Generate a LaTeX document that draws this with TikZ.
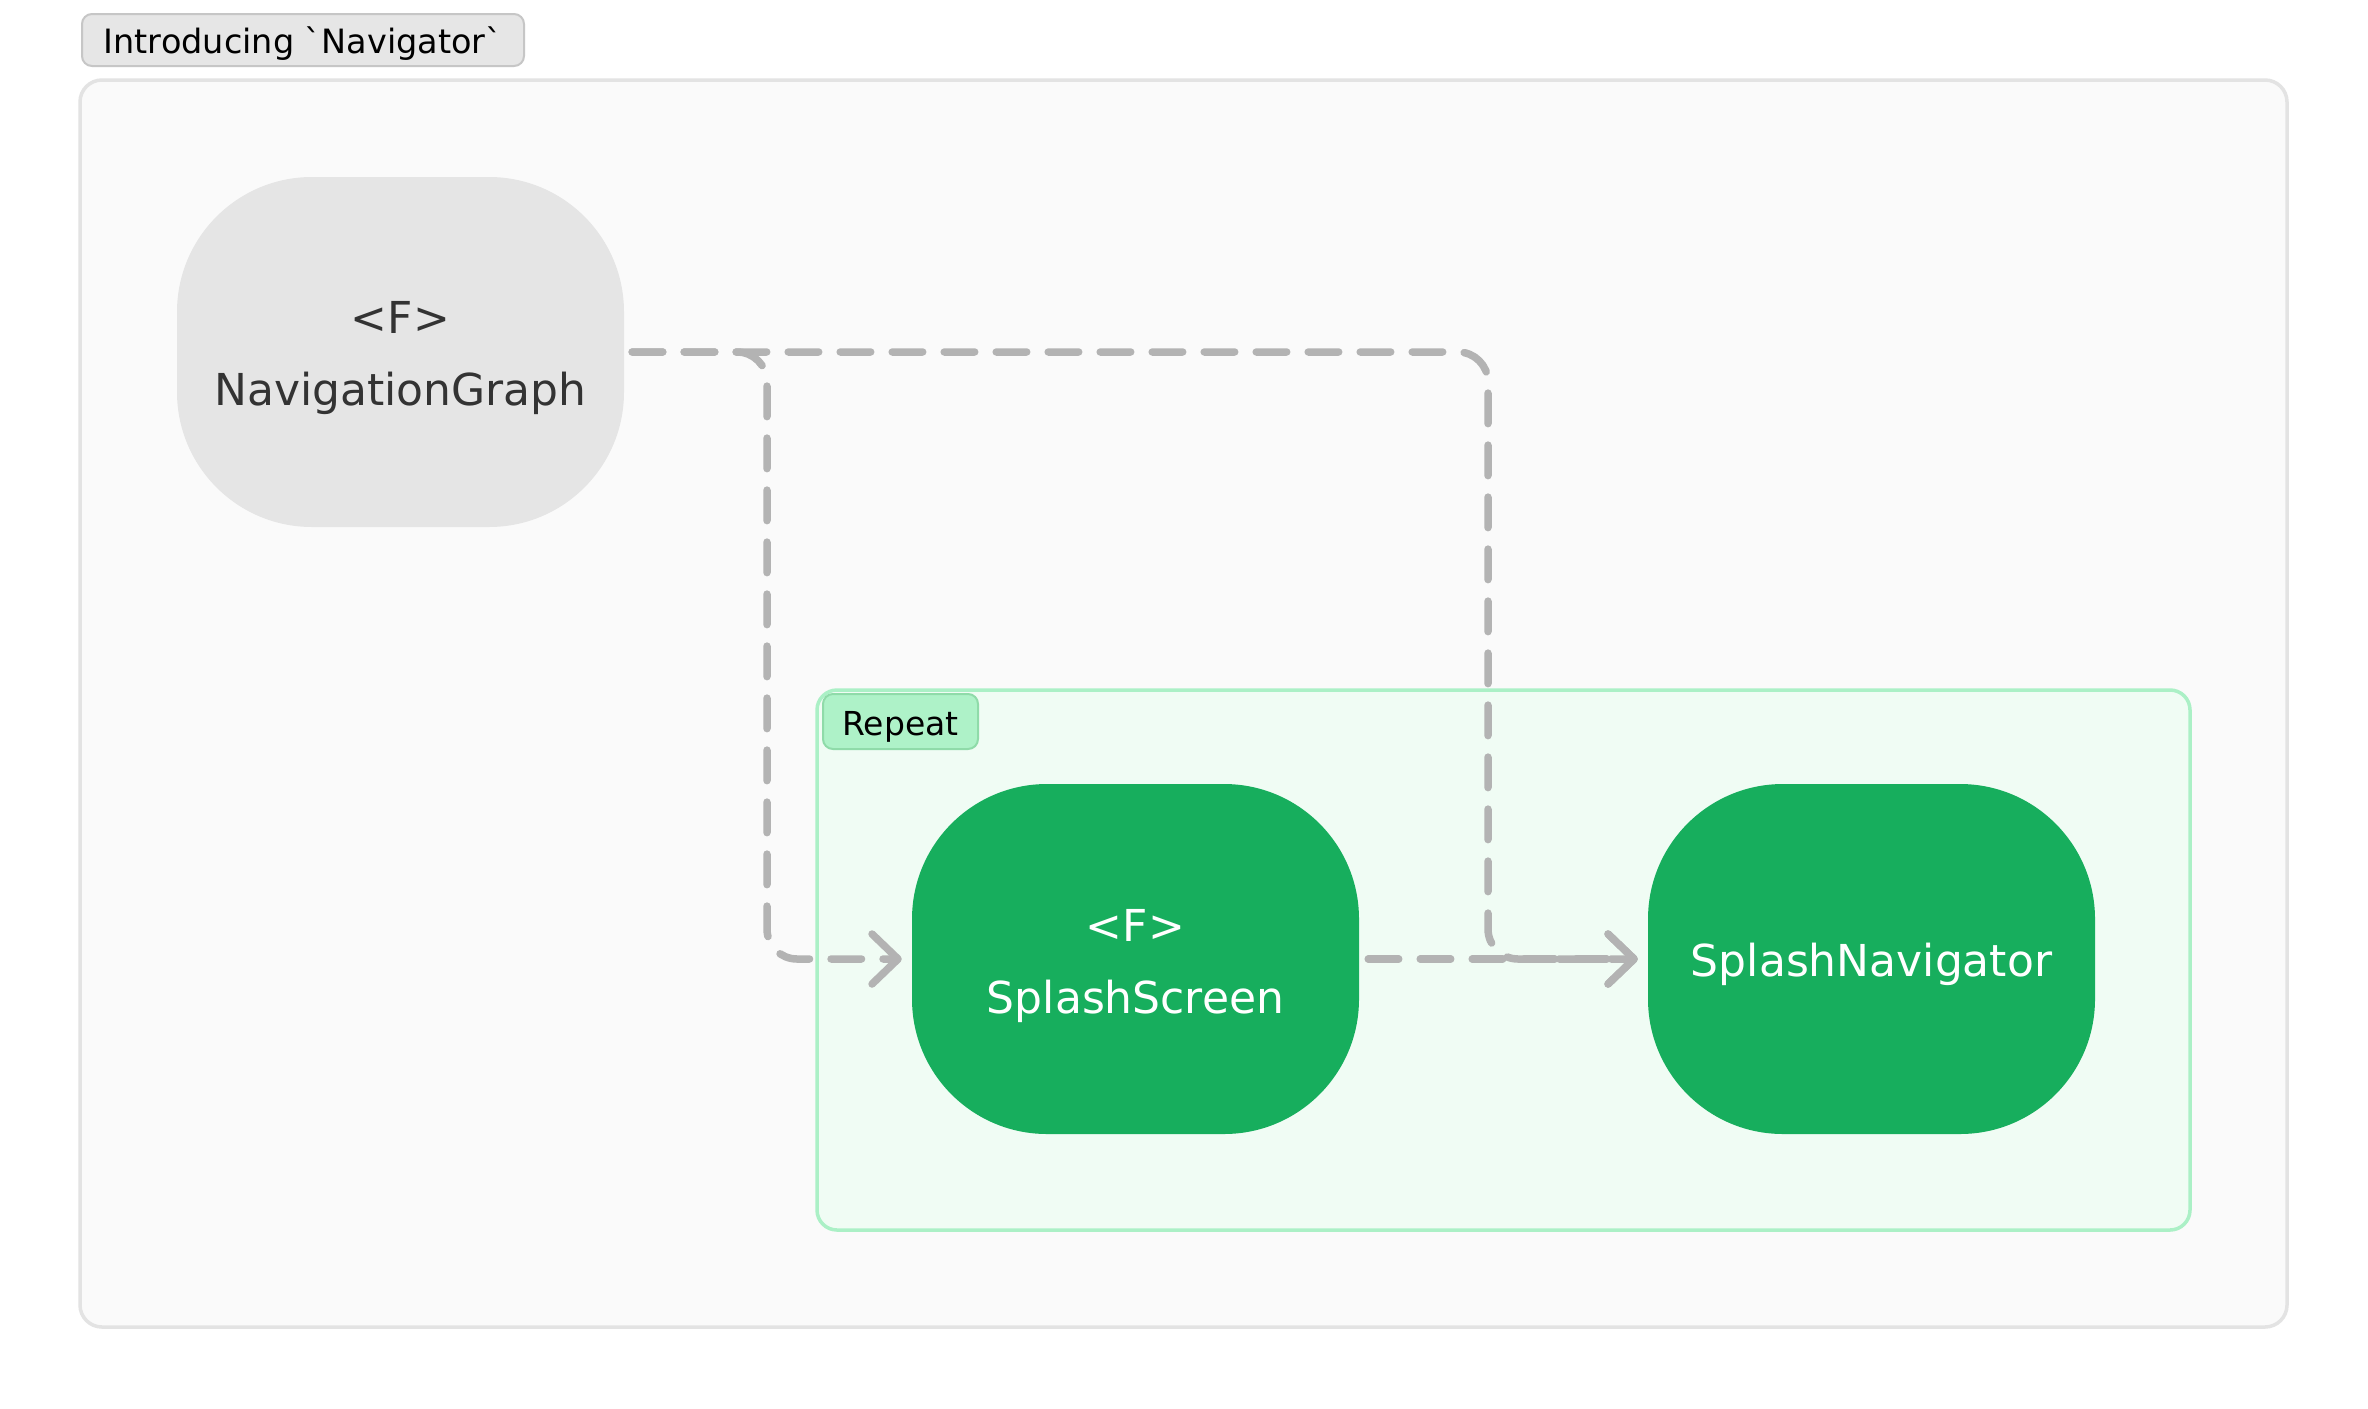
\documentclass[tikz,border=0pt]{standalone}
\usepackage{fontspec}
\setmainfont{DejaVu Sans}[Ligatures=TeXOff]
\usetikzlibrary{arrows.meta}
\definecolor{ngreen}{HTML}{17AE5D}
\definecolor{ngray}{HTML}{E5E5E5}
\definecolor{ntext}{HTML}{333333}
\definecolor{outerfill}{HTML}{FAFAFA}
\definecolor{outerline}{HTML}{E3E3E3}
\definecolor{titlefill}{HTML}{E6E6E6}
\definecolor{titleline}{HTML}{C6C6C6}
\definecolor{repfill}{HTML}{F0FCF4}
\definecolor{repline}{HTML}{ABF0C6}
\definecolor{replblfill}{HTML}{AEF2C8}
\definecolor{replblline}{HTML}{8FDBA9}
\definecolor{egray}{HTML}{B3B3B3}
\tikzset{
  bignode/.style={minimum width=447pt, minimum height=350pt, rounded corners=135pt, inner sep=0pt},
  gnode/.style={bignode, fill=ngreen},
  graynode/.style={bignode, fill=ngray},
  lbl/.style={font=\fontsize{44}{72}\selectfont, align=center, inner sep=0pt},
  edge/.style={draw=egray, line width=7.5pt, line cap=round, dash pattern=on 30.5pt off 21.5pt,
    rounded corners=30pt, -{Straight Barb[length=26pt,width=50pt,line cap=round,line join=round]}},
}
\begin{document}
\begin{tikzpicture}[x=1pt,y=-1pt]
\useasboundingbox (0,0) rectangle (2368,1408);
\fill[white] (0,0) rectangle (2368,1408);
% outer container
\node[draw=outerline, fill=outerfill, line width=3.5pt, rounded corners=22pt,
  minimum width=2207pt, minimum height=1247pt, inner sep=0pt] (outer) at (1183.5,703.5) {};
\node[draw=titleline, fill=titlefill, line width=2pt, rounded corners=10pt,
  minimum width=442pt, minimum height=52pt, inner sep=0pt] (title) at (303,40) {};
\node[font=\fontsize{33.5}{40}\selectfont, inner sep=0pt] (titlet) at ([yshift=-4pt]title.center) {Introducing `Navigator`};
% repeat container
\node[draw=repline, fill=repfill, line width=3.5pt, rounded corners=20pt,
  minimum width=1373pt, minimum height=540pt, inner sep=0pt] (rep) at (1503.5,960) {};
\node[draw=replblline, fill=replblfill, line width=2pt, rounded corners=10pt,
  minimum width=155pt, minimum height=55pt, inner sep=0pt] (replbl) at (900.5,721.5) {};
\node[font=\fontsize{33}{40}\selectfont, inner sep=0pt] (replblt) at ([yshift=-5pt]replbl.center) {Repeat};
% nodes
\node[graynode] (ng) at (400.5,352) {};
\node[lbl, text=ntext] (ngt) at ([yshift=-6.5pt]ng.center) {<F>\\NavigationGraph};
\node[gnode] (ss) at (1135.5,959) {};
\node[lbl, text=white] (sst) at ([yshift=-7pt]ss.center) {<F>\\SplashScreen};
\node[gnode] (sn) at (1871.5,959) {};
\node[lbl, text=white] (snt) at ([yshift=-5pt]sn.center) {SplashNavigator};
% edges
\coordinate (t1) at (767,352);
\coordinate (t2) at (1488,352);
\draw[edge] ([xshift=8pt]ng.east) -- (t1) |- ([xshift=-10pt]ss.west);
\draw[edge] ([xshift=8pt]ng.east) -- (t2) |- ([xshift=-10pt]sn.west);
\draw[edge] ([xshift=9pt]ss.east) -- ([xshift=-10pt]sn.west);
\end{tikzpicture}
\end{document}
